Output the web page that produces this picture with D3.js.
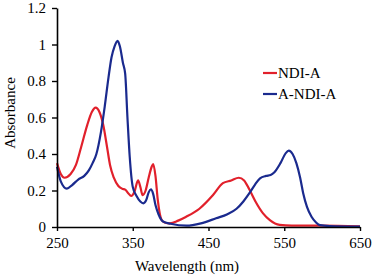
<!DOCTYPE html>
<html>
<head>
<meta charset="utf-8">
<script src="https://cdn.jsdelivr.net/npm/d3@7"></script>
<style>
  body { margin: 0; background: #fff; }
</style>
</head>
<body>
<div id="chart"></div>
<script>
// NDI-A spectrum (wavelength nm, absorbance)
const ndiWave = [250,255,260,268,275,282,290,296,301,306,311,316,320,325,331,336,340,344,348,352,357,360,363,367,371,375,377,380,383,388,392,399,410,420,438,456,469,480,490,497,504,512,522,531,544,560,600,650];
const ndiAbs  = [0.35,0.29,0.27,0.29,0.34,0.44,0.56,0.63,0.654,0.63,0.56,0.44,0.34,0.27,0.225,0.21,0.205,0.185,0.17,0.19,0.255,0.22,0.175,0.2,0.27,0.33,0.345,0.28,0.15,0.04,0.025,0.02,0.035,0.055,0.10,0.175,0.24,0.255,0.27,0.255,0.205,0.14,0.075,0.038,0.012,0.008,0.008,0.003];

// A-NDI-A spectrum
const andiWave = [250,255,263,270,278,286,292,297,302,308,313,318,322,326,330,333,337,340,343,346,350,355,360,364,368,371,374,377,380,384,390,400,421,440,460,475,487,496,504,511,518,526,532,537,545,552,556,561,566,571,575,580,586,592,597,610,650];
const andiAbs  = [0.33,0.25,0.21,0.23,0.26,0.28,0.31,0.35,0.40,0.52,0.66,0.82,0.93,0.99,1.02,0.99,0.90,0.84,0.60,0.385,0.22,0.17,0.14,0.13,0.15,0.19,0.206,0.18,0.12,0.07,0.03,0.018,0.007,0.02,0.048,0.07,0.10,0.14,0.185,0.23,0.267,0.28,0.285,0.30,0.35,0.405,0.418,0.40,0.35,0.27,0.185,0.11,0.056,0.025,0.01,0.005,0.002];

const seriesNames = ["NDI-A", "A-NDI-A"];
const seriesColors = ["#e1202b", "#1a2a8e"];
const xTicks = [250, 350, 450, 550, 650];
const yTicks = [0, 0.2, 0.4, 0.6, 0.8, 1, 1.2];

const font = "'Times New Roman', 'Liberation Serif', serif";
const width = 374, height = 279;
const svg = d3.select("#chart").append("svg")
  .attr("width", width)
  .attr("height", height)
  .attr("font-family", font);

const x = d3.scaleLinear().domain([250, 650]).range([57, 360]);
const y = d3.scaleLinear().domain([0, 1.2]).range([227, 8]);

const series = [
  ndiWave.map((w, i) => [w, ndiAbs[i]]),
  andiWave.map((w, i) => [w, andiAbs[i]])
];

const line = d3.line()
  .x(d => x(d[0]))
  .y(d => y(d[1]))
  .curve(d3.curveMonotoneX);

series.forEach((s, i) => {
  svg.append("path")
    .datum(s)
    .attr("fill", "none")
    .attr("stroke", seriesColors[i])
    .attr("stroke-width", 2.2)
    .attr("d", line);
});

// axes
const xAxis = svg.append("g")
  .attr("transform", `translate(0,${y(0)})`)
  .call(d3.axisBottom(x).tickValues(xTicks).tickSize(4).tickPadding(6).tickSizeOuter(0));
const yAxis = svg.append("g")
  .attr("transform", `translate(${x(250)},0)`)
  .call(d3.axisLeft(y).tickValues(yTicks).tickSize(5).tickPadding(6).tickSizeOuter(0)
    .tickFormat(d => d3.format("~g")(d)));

[xAxis, yAxis].forEach(a => {
  a.attr("font-family", font).attr("font-size", 15);
  a.select(".domain").attr("stroke", "#000").attr("stroke-width", 1.6);
  a.selectAll(".tick line").attr("stroke", "#000").attr("stroke-width", 1.4);
  a.selectAll(".tick text").attr("fill", "#000");
});

svg.append("text")
  .attr("x", 187).attr("y", 271)
  .attr("text-anchor", "middle")
  .attr("font-size", 15)
  .text("Wavelength (nm)");

svg.append("text")
  .attr("transform", "translate(15,113) rotate(-90)")
  .attr("text-anchor", "middle")
  .attr("font-size", 15)
  .text("Absorbance");

// legend
seriesNames.forEach((name, i) => {
  const ly = 73 + i * 21;
  svg.append("line")
    .attr("x1", 263).attr("x2", 277)
    .attr("y1", ly).attr("y2", ly)
    .attr("stroke", seriesColors[i])
    .attr("stroke-width", 2.2);
  svg.append("text")
    .attr("x", 278).attr("y", ly + 5)
    .attr("font-size", 15)
    .text(name);
});
</script>
</body>
</html>
